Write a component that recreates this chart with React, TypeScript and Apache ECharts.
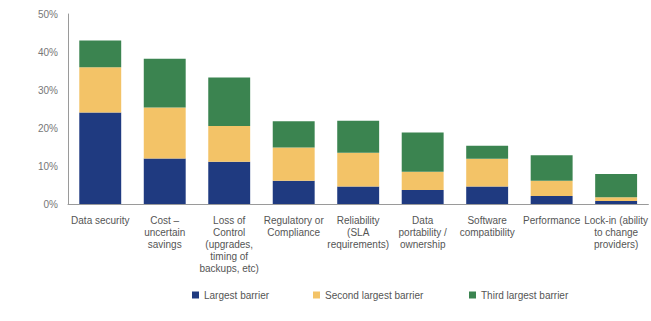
import React, { useEffect, useRef } from "react";
import * as echarts from "echarts";

const categories = [
  "Data security",
  "Cost –\nuncertain\nsavings",
  "Loss of\nControl\n(upgrades,\ntiming of\nbackups, etc)",
  "Regulatory or\nCompliance",
  "Reliability\n(SLA\nrequirements)",
  "Data\nportability /\nownership",
  "Software\ncompatibility",
  "Performance",
  "Lock-in (ability\nto change\nproviders)",
];

const largestBarrier = [24.1, 12.0, 11.1, 6.1, 4.6, 3.7, 4.6, 2.1, 0.8];
const secondBarrier = [11.9, 13.4, 9.4, 8.8, 8.9, 4.8, 7.3, 4.0, 1.0];
const thirdBarrier = [7.0, 12.8, 12.8, 6.9, 8.4, 10.3, 3.4, 6.7, 6.1];

const seriesNames = ["Largest barrier", "Second largest barrier", "Third largest barrier"];
const seriesColors = ["#1f3a80", "#f3c367", "#3b8450"];

const FONT = "'Liberation Sans', Arial, sans-serif";

export default function App() {
  const ref = useRef<HTMLDivElement>(null);

  useEffect(() => {
    if (!ref.current) return;
    const chart = echarts.init(ref.current, undefined, { renderer: "svg" });
    const values = [largestBarrier, secondBarrier, thirdBarrier];
    const legendLefts = [192, 313, 469];

    chart.setOption({
      animation: false,
      backgroundColor: "#ffffff",
      textStyle: { fontFamily: FONT },
      grid: { left: 68, right: 1, top: 14, bottom: 117 },
      legend: seriesNames.map((name, i) => ({
        data: [name],
        left: legendLefts[i],
        top: 290,
        padding: 0,
        itemWidth: 7,
        itemHeight: 7,
        icon: "rect",
        textStyle: { fontSize: 10, color: "#555", fontFamily: FONT },
      })),
      xAxis: {
        type: "category",
        data: categories,
        axisLine: { lineStyle: { color: "#9a9a9a", width: 1 } },
        axisTick: { show: false },
        axisLabel: {
          interval: 0,
          fontSize: 10,
          lineHeight: 12,
          color: "#555",
          margin: 10,
          fontFamily: FONT,
        },
      },
      yAxis: {
        type: "value",
        min: 0,
        max: 50,
        interval: 10,
        axisLine: { show: true, lineStyle: { color: "#9a9a9a", width: 1 } },
        axisTick: { show: false },
        splitLine: { show: false },
        axisLabel: {
          formatter: "{value}%",
          fontSize: 10,
          color: "#777",
          margin: 10,
          fontFamily: FONT,
        },
      },
      series: seriesNames.map((name, i) => ({
        name,
        type: "bar",
        stack: "total",
        barWidth: "65%",
        itemStyle: { color: seriesColors[i] },
        data: values[i],
      })),
    });

    return () => chart.dispose();
  }, []);

  return (
    <div
      ref={ref}
      style={{ position: "fixed", left: 0, top: 0, width: 651, height: 321 }}
    />
  );
}
